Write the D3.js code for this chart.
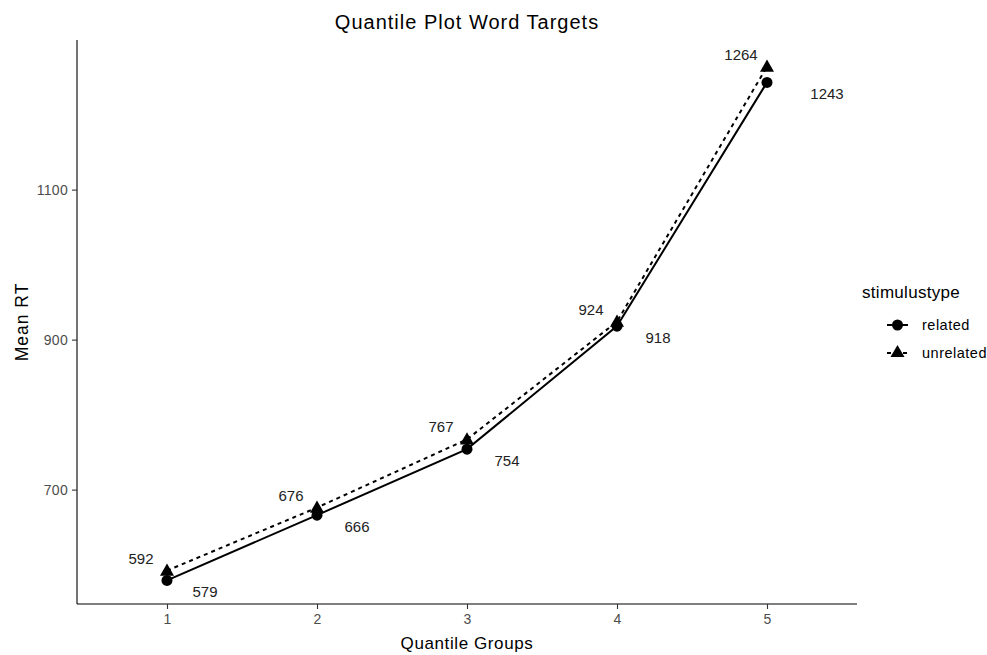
<!DOCTYPE html>
<html>
<head>
<meta charset="utf-8">
<script src="https://cdn.jsdelivr.net/npm/d3@7"></script>
<style>
  body { margin: 0; background: #fff; }
  text { font-family: "Liberation Sans", Arial, sans-serif; }
</style>
</head>
<body>
<svg id="chart" width="987" height="655"></svg>
<script>
const groups = [1, 2, 3, 4, 5];
const related = [579, 666, 754, 918, 1243];
const unrelated = [592, 676, 767, 924, 1264];
const yTicks = [700, 900, 1100];
const seriesNames = ["related", "unrelated"];
// label offsets in pixels (styling)
const relatedLabelDx = [38, 40, 40, 41, 60];

const svg = d3.select("#chart");
const margin = { left: 77, top: 40 };
const plotRight = 857, plotBottom = 604;

const x = d3.scaleLinear().domain([0.4, 5.6]).range([margin.left, plotRight]);
const y = d3.scaleLinear().domain([547.5, 1299.5]).range([plotBottom, margin.top]);

// axes
const xAxis = d3.axisBottom(x).tickValues(groups).tickSize(5).tickPadding(5).tickFormat(d3.format("d"));
const yAxis = d3.axisLeft(y).tickValues(yTicks).tickSize(5).tickPadding(4).tickFormat(d3.format("d"));

const gx = svg.append("g").attr("transform", `translate(0,${plotBottom})`).call(xAxis);
const gy = svg.append("g").attr("transform", `translate(${margin.left},0)`).call(yAxis);
[gx, gy].forEach(g => {
  g.select(".domain").attr("stroke", "#000").attr("stroke-width", 1.1);
  g.selectAll(".tick line").attr("stroke", "#333").attr("stroke-width", 1.1);
  g.selectAll(".tick text").attr("fill", "#4d4d4d").style("font-size", "14px")
    .style("letter-spacing", "0.3px")
    .style("font-family", "'Liberation Sans', Arial, sans-serif");
});
gx.select(".domain").attr("d", `M${margin.left},0H${plotRight}`);
gy.select(".domain").attr("d", `M0,${plotBottom}V${margin.top}`);

// lines
const line = d3.line().x((d, i) => x(groups[i])).y(d => y(d));
svg.append("path").datum(related).attr("d", line)
  .attr("fill", "none").attr("stroke", "#000").attr("stroke-width", 2);
svg.append("path").datum(unrelated).attr("d", line)
  .attr("fill", "none").attr("stroke", "#000").attr("stroke-width", 2)
  .attr("stroke-dasharray", "4,4");

// points
const tri = d3.symbol().type(d3.symbolTriangle).size(85);
svg.selectAll(".pr").data(related).enter().append("circle")
  .attr("cx", (d, i) => x(groups[i])).attr("cy", d => y(d)).attr("r", 5.5).attr("fill", "#000");
svg.selectAll(".pu").data(unrelated).enter().append("path")
  .attr("d", tri).attr("transform", (d, i) => `translate(${x(groups[i])},${y(d) + 1})`).attr("fill", "#000");

// value labels
svg.selectAll(".lr").data(related).enter().append("text")
  .attr("x", (d, i) => x(groups[i]) + relatedLabelDx[i]).attr("y", d => y(d) + 11.5)
  .attr("text-anchor", "middle").attr("dominant-baseline", "central")
  .style("font-size", "15px").attr("fill", "#222").text(d => d);
svg.selectAll(".lu").data(unrelated).enter().append("text")
  .attr("x", (d, i) => x(groups[i]) - 26).attr("y", d => y(d) - 12.5)
  .attr("text-anchor", "middle").attr("dominant-baseline", "central")
  .style("font-size", "15px").attr("fill", "#222").text(d => d);

// titles
svg.append("text").attr("x", (margin.left + plotRight) / 2).attr("y", 29)
  .attr("text-anchor", "middle").style("font-size", "20px").style("letter-spacing", "1px").attr("fill", "#000")
  .text("Quantile Plot Word Targets");
svg.append("text").attr("x", (margin.left + plotRight) / 2).attr("y", 649)
  .attr("text-anchor", "middle").style("font-size", "17px").style("letter-spacing", "0.6px").attr("fill", "#000")
  .text("Quantile Groups");
svg.append("text").attr("transform", `translate(28,${(margin.top + plotBottom) / 2}) rotate(-90)`)
  .attr("text-anchor", "middle").style("font-size", "17.5px").style("letter-spacing", "1px").attr("fill", "#000")
  .text("Mean RT");

// legend
const lg = svg.append("g").attr("transform", "translate(862,0)");
lg.append("text").attr("x", 0).attr("y", 298).style("font-size", "17px").style("letter-spacing", "0.3px").attr("fill", "#000").text("stimulustype");
const rows = [325, 353];
seriesNames.forEach((name, i) => {
  const ry = rows[i];
  lg.append("line").attr("x1", 25).attr("x2", 46).attr("y1", ry).attr("y2", ry)
    .attr("stroke", "#000").attr("stroke-width", 2)
    .attr("stroke-dasharray", i === 0 ? null : "4,4");
  if (i === 0) {
    lg.append("circle").attr("cx", 35.5).attr("cy", ry).attr("r", 5.5).attr("fill", "#000");
  } else {
    lg.append("path").attr("d", tri).attr("transform", `translate(35.5,${ry})`).attr("fill", "#000");
  }
  lg.append("text").attr("x", 60).attr("y", ry).attr("dominant-baseline", "central")
    .style("font-size", "14.5px").style("letter-spacing", "0.5px").attr("fill", "#000").text(name);
});
</script>
</body>
</html>
